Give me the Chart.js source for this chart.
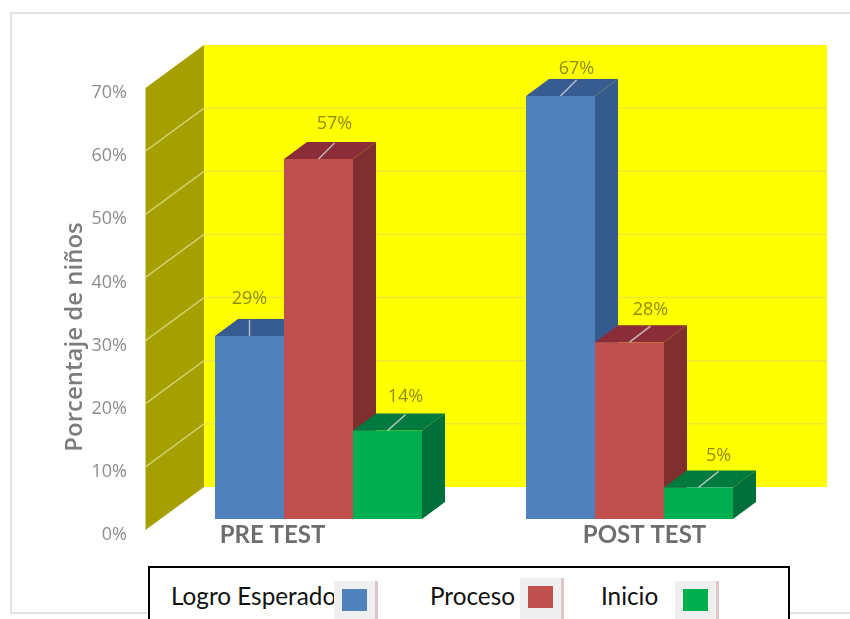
<!DOCTYPE html>
<html>
<head>
<meta charset="utf-8">
<script src="https://cdn.jsdelivr.net/npm/chart.js@4"></script>
<style>
html, body { margin: 0; padding: 0; background: #fff; overflow: hidden; width: 850px; height: 619px; }
#frame { position: absolute; left: 10px; top: 12px; width: 900px; height: 598px; border: 2px solid #e2e2e2; }
#myChart { position: absolute; left: 0; top: 0; }
#legendBox { position: absolute; left: 148px; top: 566px; width: 638px; height: 80px; border: 2px solid #000; background: #fff; }
.legendText { position: absolute; font: 24.3px Lato, sans-serif; color: #111; top: 15px; line-height: 26px; white-space: nowrap; }
.legendKey { position: absolute; top: 13px; width: 41px; height: 50px; background: #efefef; border-right: 3px solid #dcc8c8; }
.legendKey i { position: absolute; left: 8px; top: 8px; width: 25px; height: 22px; display: block; }
</style>
</head>
<body>
<div id="frame"></div>
<canvas id="myChart" width="850" height="619"></canvas>
<div id="legendBox"></div>
<script>
// Values
const categories = ['PRE TEST', 'POST TEST'];
const seriesNames = ['Logro Esperado', 'Proceso', 'Inicio'];
const logroEsperado = [29, 67];
const proceso = [57, 28];
const inicio = [14, 5];
const yTicks = [0, 10, 20, 30, 40, 50, 60, 70];

const seriesValues = [logroEsperado, proceso, inicio];
const frontColors = ['#4f81bd', '#c0504d', '#00b050'];
const sideColors = ['#355a8c', '#7f302e', '#006f3a'];
const topColors = ['#375c92', '#8a2d38', '#007a3e'];

// 3d look, in pixels
const barDepth = { x: 23, y: 17 };
const wall = { backX: 41, backY: 32, frontX: 17.5, frontY: 11 };
// where the value labels sit from the top of their bar, per series and category
const labelDx = [[0, 16], [16, 21], [18, 20]];
const labelDy = [[37, 27], [35, 32], [34, 32]];
const categoryShift = [-46, 15];

const polygon = (ctx, pts, color) => {
    ctx.fillStyle = color;
    ctx.beginPath();
    pts.forEach((p, i) => i ? ctx.lineTo(p[0], p[1]) : ctx.moveTo(p[0], p[1]));
    ctx.closePath();
    ctx.fill();
};

const chart3d = {
    id: 'chart3d',
    beforeDatasetsDraw(chart) {
        const { ctx, chartArea, scales: { y } } = chart;
        const backL = chartArea.left + wall.backX, backR = chartArea.right + wall.backX + 1;
        const frontL = chartArea.left - wall.frontX;
        const y0 = y.getPixelForValue(0), yMax = y.getPixelForValue(70);
        // back wall and side wall
        polygon(ctx, [[backL, yMax - wall.backY], [backR, yMax - wall.backY], [backR, y0 - wall.backY], [backL, y0 - wall.backY]], '#ffff00');
        polygon(ctx, [[frontL, yMax + wall.frontY], [backL, yMax - wall.backY], [backL, y0 - wall.backY], [frontL, y0 + wall.frontY]], '#a5a000');
        // grid lines run along both walls
        ctx.lineWidth = 1.5;
        yTicks.slice(1, -1).forEach(v => {
            const py = y.getPixelForValue(v);
            ctx.strokeStyle = '#efe835';
            ctx.beginPath();
            ctx.moveTo(backL, py - wall.backY);
            ctx.lineTo(backR, py - wall.backY);
            ctx.stroke();
            ctx.strokeStyle = '#d2d070';
            ctx.beginPath();
            ctx.moveTo(frontL, py + wall.frontY);
            ctx.lineTo(backL, py - wall.backY);
            ctx.stroke();
        });
        // paint left to right so nearer faces cover the ones behind them
        seriesNames.forEach((name, s) => {
            chart.getDatasetMeta(s).data.forEach(bar => {
                const l = bar.x - bar.width / 2, r = bar.x + bar.width / 2;
                polygon(ctx, [[r, bar.y], [r + barDepth.x, bar.y - barDepth.y], [r + barDepth.x, bar.base - barDepth.y], [r, bar.base]], sideColors[s]);
                polygon(ctx, [[l, bar.y], [l + barDepth.x, bar.y - barDepth.y], [r + barDepth.x, bar.y - barDepth.y], [r, bar.y]], topColors[s]);
                bar.draw(ctx);
            });
        });
    },
    // bars are already painted above, in the right order
    beforeDatasetDraw() {
        return false;
    },
    afterDatasetsDraw(chart) {
        const { ctx, chartArea, scales: { x, y } } = chart;
        ctx.save();
        ctx.textAlign = 'center';
        ctx.textBaseline = 'middle';
        seriesValues.forEach((vals, s) => {
            chart.getDatasetMeta(s).data.forEach((bar, i) => {
                const lx = bar.x + labelDx[s][i];
                ctx.strokeStyle = 'rgba(215,215,215,0.8)';
                ctx.lineWidth = 1.5;
                ctx.beginPath();
                ctx.moveTo(bar.x, bar.y);
                ctx.lineTo(lx, bar.y - 16);
                ctx.stroke();
                ctx.fillStyle = '#8f8d10';
                ctx.font = '18px "Open Sans", sans-serif';
                ctx.fillText(vals[i] + '%', lx, bar.y - labelDy[s][i]);
            });
        });
        // category names
        ctx.fillStyle = '#6e6e6e';
        ctx.font = 'bold 24px Lato, sans-serif';
        categories.forEach((c, i) => ctx.fillText(c, x.getPixelForValue(i) + categoryShift[i], chartArea.bottom + 16));
        // value axis title
        ctx.translate(75, 337);
        ctx.rotate(-Math.PI / 2);
        ctx.fillStyle = '#7c7c7c';
        ctx.font = '600 24px "Open Sans", sans-serif';
        ctx.fillText('Porcentaje de niños', 0, 0);
        ctx.restore();
    }
};

var ctx = document.getElementById('myChart').getContext('2d');
var myChart = new Chart(ctx, {
    type: 'bar',
    data: {
        labels: categories,
        datasets: seriesNames.map((name, s) => ({
            label: name,
            data: seriesValues[s],
            backgroundColor: frontColors[s],
            borderWidth: 0,
            categoryPercentage: 0.6656,
            barPercentage: 1
        }))
    },
    plugins: [chart3d],
    options: {
        responsive: false,
        animation: false,
        layout: { padding: { top: 77, right: 65, bottom: 100, left: 0 } },
        plugins: {
            legend: { display: false },
            tooltip: { enabled: false }
        },
        scales: {
            x: { display: false },
            y: {
                min: 0,
                max: 70,
                afterFit: s => { s.width = 163; },
                afterBuildTicks: s => { s.ticks = yTicks.map(v => ({ value: v })); },
                grid: { display: false, drawTicks: false },
                border: { display: false },
                ticks: {
                    padding: 36,
                    labelOffset: 16,
                    color: '#8c8c8c',
                    font: { family: '"Open Sans", sans-serif', size: 18 },
                    callback: v => v + '%'
                }
            }
        }
    }
});

// Legend, pasted over the bottom of the chart like in the picture
const legendTextX = [21, 280, 451];
const legendKeyX = [184, 370, 525];
const legendKeyTop = [13, 10, 13];
const legendBox = document.getElementById('legendBox');
seriesNames.forEach((name, s) => {
    const t = document.createElement('div');
    t.className = 'legendText';
    t.style.left = legendTextX[s] + 'px';
    t.textContent = name;
    legendBox.appendChild(t);
    const k = document.createElement('div');
    k.className = 'legendKey';
    k.style.left = legendKeyX[s] + 'px';
    k.style.top = legendKeyTop[s] + 'px';
    const i = document.createElement('i');
    i.style.background = frontColors[s];
    k.appendChild(i);
    legendBox.appendChild(k);
});
</script>
</body>
</html>
